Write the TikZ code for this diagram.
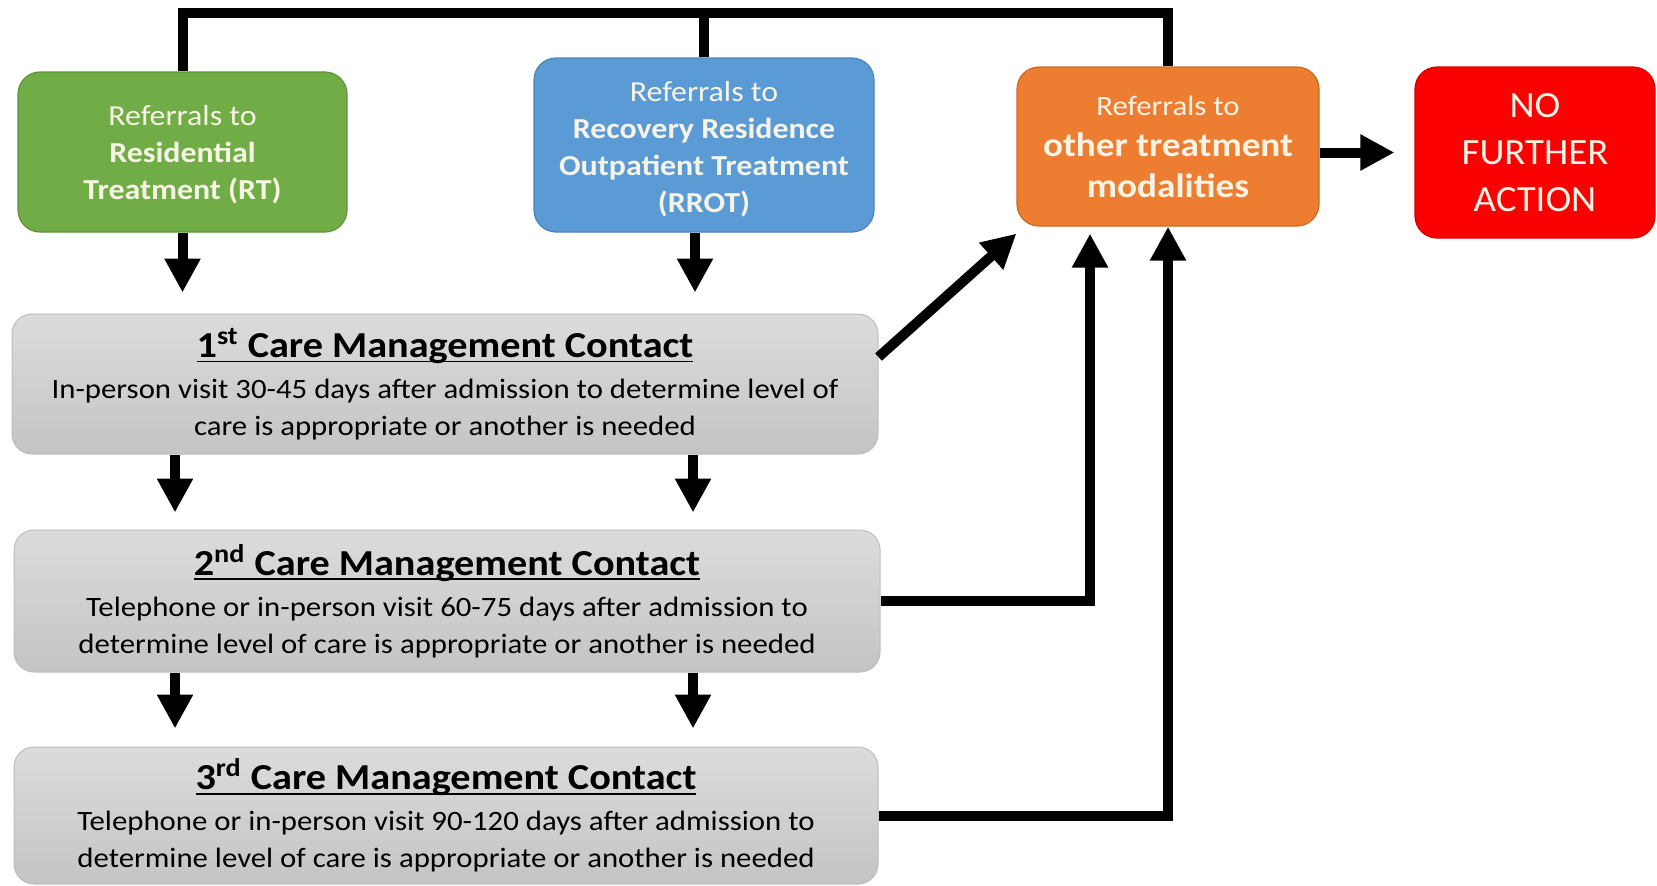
\documentclass[tikz,border=0pt]{standalone}
\usepackage{fontspec}
\setmainfont{Carlito}[FakeStretch=1.1]
\newfontfamily\redfont{Carlito}[FakeStretch=1.05]
\usetikzlibrary{arrows.meta}
\definecolor{cgreen}{HTML}{70AD47}
\definecolor{cblue}{HTML}{5B9BD5}
\definecolor{corange}{HTML}{ED7D31}
\definecolor{cred}{HTML}{FA0000}
\definecolor{boxtext}{HTML}{F7F4E6}
\definecolor{gtop}{HTML}{DCDCDC}
\definecolor{gbot}{HTML}{C4C4C4}
\definecolor{gedge}{HTML}{BDBDBD}
\newcommand{\gtitle}[1]{{\fontsize{18.3}{21}\selectfont\bfseries\setbox0\hbox{#1}\rlap{\rule[-2.6pt]{\wd0}{0.9pt}}\box0}}
\newcommand{\down}[2]{\raisebox{0pt}[\dimexpr\height+#1\relax]{#2}}
\begin{document}
\begin{tikzpicture}[x=0.5pt,y=-0.5pt,
  cbox/.style={rounded corners=11pt, inner sep=0pt, align=center, text=boxtext, line width=0.6pt},
  gbox/.style={rounded corners=10pt, inner sep=0pt, align=center, text=black, draw=gedge, line width=0.5pt,
    top color=gtop, bottom color=gbot, font=\fontsize{14}{18.5}\selectfont, minimum width=433pt},
  conn/.style={line width=5pt, black},
  arr/.style={line width=5pt, black, -{Triangle[length=17pt,width=17pt]}}]
\useasboundingbox (0,0) rectangle (1657,885);

\node[cbox, fill=cgreen, draw=cgreen!85!black, minimum width=164.5pt, minimum height=80pt,
  font=\fontsize{14.5}{18.5}\selectfont] (green) at (182.5,152)
  {\down{2.6pt}{Referrals to}\\ \textbf{Residential}\\ \textbf{Treatment (RT)}};
\node[cbox, fill=cblue, draw=cblue!85!black, minimum width=170pt, minimum height=87pt,
  font=\fontsize{14.5}{18.5}\selectfont] (blue) at (704,145)
  {\down{4pt}{Referrals to}\\ \textbf{Recovery Residence}\\ \textbf{Outpatient Treatment}\\ \textbf{(RROT)}};
\node[cbox, fill=corange, draw=corange!85!black, minimum width=151pt, minimum height=79.5pt,
  font=\fontsize{14}{20.5}\selectfont] (orange) at (1168,146.5)
  {Referrals to\\ {\fontsize{16.9}{18}\selectfont\textbf{other treatment}}\\ {\fontsize{16.9}{18}\selectfont\textbf{modalities}}};
\node[cbox, fill=cred, draw=cred!85!black, minimum width=120pt, minimum height=85.5pt,
  font=\redfont\fontsize{18.5}{23.5}\selectfont] (red) at (1535,152.5)
  {NO\\ FURTHER\\ ACTION};

\node[gbox, minimum height=70pt] (g1) at (445,384)
  {\gtitle{1\textsuperscript{st} Care Management Contact}\\[2pt]
   In-person visit 30-45 days after admission to determine level of\\
   care is appropriate or another is needed};
\node[gbox, minimum height=71pt] (g2) at (447,601)
  {\gtitle{2\textsuperscript{nd} Care Management Contact}\\[2pt]
   Telephone or in-person visit 60-75 days after admission to\\
   determine level of care is appropriate or another is needed};
\node[gbox, minimum height=68.5pt, minimum width=432pt] (g3) at (446,815.5)
  {\gtitle{3\textsuperscript{rd} Care Management Contact}\\[2pt]
   Telephone or in-person visit 90-120 days after admission to\\
   determine level of care is appropriate or another is needed};

% top connector
\draw[conn] (green.north) -- (green.north |- 0,13) -| (orange.north);
\draw[conn] (blue.north) -- (blue.north |- 0,13);

% downward arrows
\draw[arr, shorten >=10.5pt] (green.south) -- (green.south |- g1.north);
\draw[arr, shorten >=10.5pt] ([xshift=-4.5pt]blue.south) -- ([xshift=-4.5pt]blue.south |- g1.north);
\draw[arr, shorten >=8.5pt] (g1.south -| 175,0) -- (g2.north -| 175,0);
\draw[arr, shorten >=8.5pt] (g1.south -| 693,0) -- (g2.north -| 693,0);
\draw[arr, shorten >=9pt] (g2.south -| 175,0) -- (g3.north -| 175,0);
\draw[arr, shorten >=9pt] (g2.south -| 693,0) -- (g3.north -| 693,0);

% to other treatment
\draw[arr] ([yshift=13.5pt]g1.east) -- ([yshift=-3.5pt]orange.south west);
\draw[arr] (g2.east) -| ([xshift=-39pt,yshift=-3.5pt]orange.south);
\draw[arr] (g3.east) -| (orange.south);
\draw[arr, shorten >=10pt] (orange.east |- red.west) -- (red.west);
\end{tikzpicture}
\end{document}
